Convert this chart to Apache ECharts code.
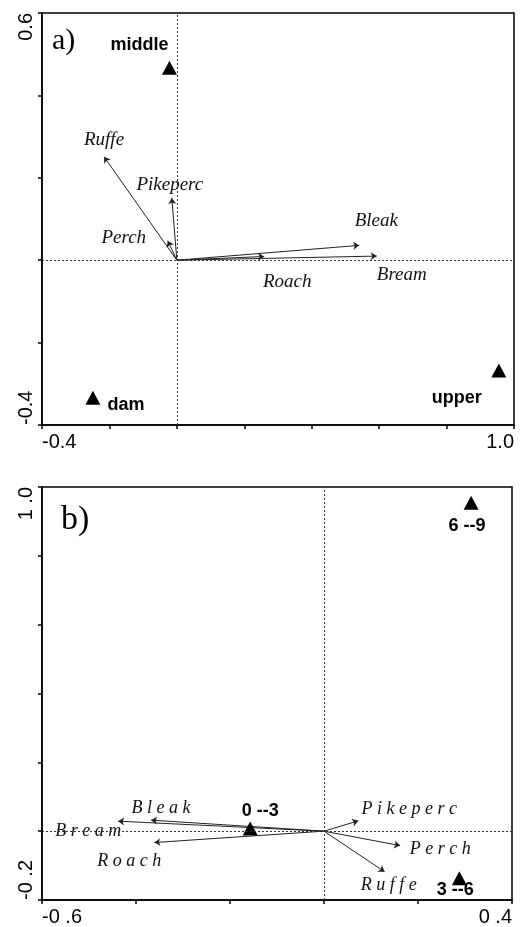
<!DOCTYPE html>
<html>
<head>
<meta charset="utf-8">
<title>CCA biplots</title>
<script src="https://cdn.jsdelivr.net/npm/echarts@6/dist/echarts.min.js"></script>
<style>
  html, body { margin: 0; padding: 0; background: #fff; }
  #chart { width: 521px; height: 927px; }
</style>
</head>
<body>
<div id="chart"></div>
<script>
// panel a) - species arrows and site scores
const speciesA = ['Ruffe', 'Pikeperc', 'Perch', 'Bleak', 'Bream', 'Roach'];
const speciesAX = [-0.216, -0.015, -0.027, 0.541, 0.593, 0.259];
const speciesAY = [0.251, 0.151, 0.047, 0.036, 0.010, 0.009];
const sitesA = ['middle', 'dam', 'upper'];
const sitesAX = [-0.022, -0.249, 0.955];
const sitesAY = [0.467, -0.334, -0.268];
const xTickLabelsA = ['-0.4', '1.0'];
const yTickLabelsA = ['-0.4', '0.6'];

// panel b) - species arrows and size classes
const speciesB = ['Bleak', 'Bream', 'Roach', 'Pikeperc', 'Perch', 'Ruffe'];
const speciesBX = [-0.368, -0.438, -0.361, 0.073, 0.162, 0.129];
const speciesBY = [0.032, 0.029, -0.033, 0.030, -0.042, -0.118];
const sitesB = ['6 --9', '0 --3', '3 --6'];
const sitesBX = [0.313, -0.157, 0.288];
const sitesBY = [0.954, 0.008, -0.137];
const xTickLabelsB = ['-0 .6', '0 .4'];
const yTickLabelsB = ['-0 .2', '1 .0'];

// label offsets (pixels) from the arrow tip / triangle
const speciesOffsetA = {
  Ruffe: [0, -17], Pikeperc: [-2, -13], Perch: [-44, -3],
  Bleak: [17, -24], Bream: [25, 19], Roach: [23, 26]
};
const siteOffsetA = { middle: [-30, -23], dam: [33, 7], upper: [-42, 27] };
const speciesOffsetB = {
  Bleak: [10, -12], Bream: [-30, 10], Roach: [-25, 19],
  Pikeperc: [51, -12], Perch: [40, 4], Ruffe: [4, 13]
};
const siteOffsetB = { '6 --9': [-4, 23], '0 --3': [10, -17], '3 --6': [-4, 12] };

const SANS = '"Liberation Sans", Arial, sans-serif';
const SERIF = '"Liberation Serif", "Times New Roman", serif';

function tickFormatter(min, max, labels) {
  return function (v) {
    if (Math.abs(v - min) < 1e-6) return labels[0];
    if (Math.abs(v - max) < 1e-6) return labels[1];
    return '';
  };
}

function xAxisOf(idx, min, max, labels) {
  return {
    type: 'value', gridIndex: idx, min: min, max: max, interval: 0.2,
    splitLine: { show: false },
    axisLine: { onZero: false, lineStyle: { color: '#000', width: 1.5 } },
    axisTick: { length: 4, lineStyle: { color: '#000', width: 1.5 } },
    axisLabel: {
      margin: 7, color: '#000', fontFamily: SANS, fontSize: 20,
      showMinLabel: true, showMaxLabel: true, hideOverlap: false,
      alignMinLabel: 'left', alignMaxLabel: 'right',
      formatter: tickFormatter(min, max, labels)
    }
  };
}

function yAxisOf(idx, min, max, labels) {
  return {
    type: 'value', gridIndex: idx, min: min, max: max, interval: 0.2,
    splitLine: { show: false },
    axisLine: { onZero: false, lineStyle: { color: '#000', width: 1.5 } },
    axisTick: { length: 4, lineStyle: { color: '#000', width: 1.5 } },
    axisLabel: {
      rotate: 90, margin: 6, color: '#000', fontFamily: SANS, fontSize: 20,
      showMinLabel: true, showMaxLabel: true, hideOverlap: false,
      verticalAlign: 'bottom',
      alignMinLabel: 'left', alignMaxLabel: 'right',
      formatter: tickFormatter(min, max, labels)
    }
  };
}

function arrowSeries(idx, names, xs, ys) {
  return {
    type: 'lines', coordinateSystem: 'cartesian2d',
    xAxisIndex: idx, yAxisIndex: idx,
    symbol: ['none', 'arrow'], symbolSize: 6,
    lineStyle: { color: '#222', width: 1, opacity: 1 },
    silent: true,
    data: names.map((n, i) => ({ name: n, coords: [[0, 0], [xs[i], ys[i]]] }))
  };
}

function speciesLabelSeries(idx, names, xs, ys, offsets, spaced) {
  return {
    type: 'scatter', xAxisIndex: idx, yAxisIndex: idx,
    symbolSize: 1, itemStyle: { color: 'rgba(0,0,0,0)', opacity: 1 }, silent: true,
    label: {
      show: true, position: 'inside', color: '#111',
      fontFamily: SERIF, fontStyle: 'italic', fontSize: spaced ? 18 : 19,
      formatter: p => spaced ? p.name.split('').join(' ') : p.name
    },
    data: names.map((n, i) => ({
      name: n, value: [xs[i], ys[i]], label: { offset: offsets[n] }
    })),
    markLine: {
      silent: true, symbol: ['none', 'none'], animation: false,
      label: { show: false },
      lineStyle: { color: '#333', width: 1, type: [2, 2] },
      data: [{ xAxis: 0 }, { yAxis: 0 }]
    }
  };
}

function siteSeries(idx, names, xs, ys, offsets) {
  return {
    type: 'scatter', xAxisIndex: idx, yAxisIndex: idx,
    symbol: 'triangle', symbolSize: [15, 14],
    itemStyle: { color: '#000', opacity: 1 }, silent: true,
    label: {
      show: true, position: 'inside', color: '#000',
      fontFamily: SANS, fontWeight: 'bold', fontSize: 18,
      formatter: p => p.name
    },
    data: names.map((n, i) => ({
      name: n, value: [xs[i], ys[i]], label: { offset: offsets[n] }
    }))
  };
}

const myChart = echarts.init(document.getElementById('chart'), null, { renderer: 'canvas' });
const options = {
  animation: false,
  backgroundColor: '#fff',
  grid: [
    { left: 42, top: 13, right: 7, bottom: 502, show: true, borderColor: '#000', borderWidth: 1.5 },
    { left: 42, top: 487, right: 9, bottom: 25, show: true, borderColor: '#000', borderWidth: 1.5 }
  ],
  xAxis: [
    xAxisOf(0, -0.4, 1.0, xTickLabelsA),
    xAxisOf(1, -0.6, 0.4, xTickLabelsB)
  ],
  yAxis: [
    yAxisOf(0, -0.4, 0.6, yTickLabelsA),
    yAxisOf(1, -0.2, 1.0, yTickLabelsB)
  ],
  graphic: [
    { type: 'text', left: 52, top: 26, style: { text: 'a)', font: '30px ' + SERIF, fill: '#000' } },
    { type: 'text', left: 61, top: 503, style: { text: 'b)', font: '34px ' + SERIF, fill: '#000' } }
  ],
  series: [
    arrowSeries(0, speciesA, speciesAX, speciesAY),
    speciesLabelSeries(0, speciesA, speciesAX, speciesAY, speciesOffsetA, false),
    siteSeries(0, sitesA, sitesAX, sitesAY, siteOffsetA),
    arrowSeries(1, speciesB, speciesBX, speciesBY),
    speciesLabelSeries(1, speciesB, speciesBX, speciesBY, speciesOffsetB, true),
    siteSeries(1, sitesB, sitesBX, sitesBY, siteOffsetB)
  ]
};
myChart.setOption(options);
</script>
</body>
</html>
